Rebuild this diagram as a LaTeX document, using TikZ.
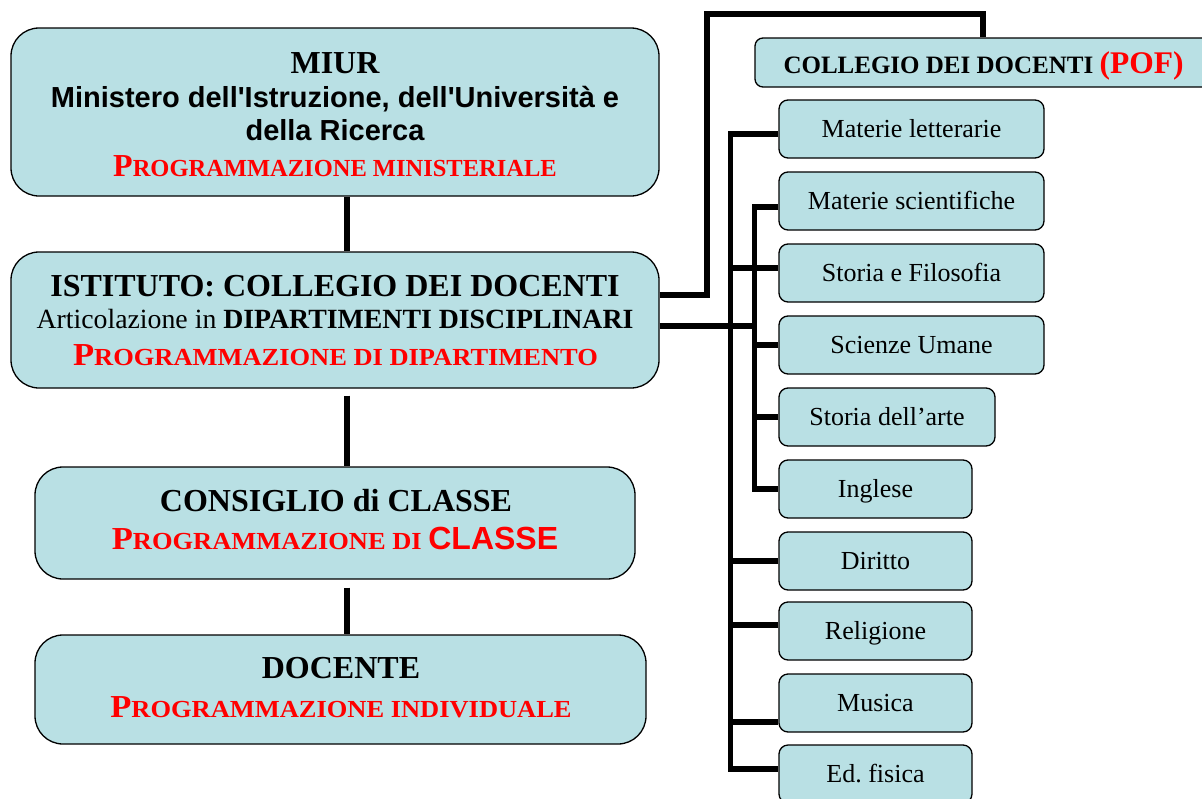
\documentclass[tikz,border=0pt]{standalone}
\usepackage{fontspec}
\setmainfont{Liberation Serif}
\newfontfamily\arialf{Liberation Sans}
\newfontfamily\serifwide{Liberation Serif}[FakeStretch=1.08]
\definecolor{boxfill}{RGB}{185,224,228}
\newcommand\szf[1]{\fontsize{#1}{#1}\selectfont}
\newcommand\sqt{\XeTeXglyph\XeTeXcharglyph"27\relax}
\newcommand\pcap[1]{{\szf{32}P}{\szf{24.5}#1}}
\newcommand\pcapw[1]{{\serifwide\bfseries{\szf{32}P}{\szf{24.5}#1}}}
\tikzset{
  bigbox/.style={draw=black, line width=1.3pt, fill=boxfill, rounded corners=28pt, inner sep=0pt},
  pofbox/.style={draw=black, line width=1.3pt, fill=boxfill, rounded corners=8pt, inner sep=0pt},
  smallbox/.style={draw=black, line width=1.3pt, fill=boxfill, rounded corners=9pt, inner sep=0pt,
    font=\szf{26}, text height=20pt, text depth=3pt, minimum height=58pt},
  conn/.style={line width=5.5pt, black, line join=miter},
  txt/.style={anchor=base, inner sep=0pt},
  redtxt/.style={txt, text=red, font=\bfseries},
}
\begin{document}
\begin{tikzpicture}[x=1pt,y=-1pt]
\clip (0,0) rectangle (1202,798);
\useasboundingbox (0,0) rectangle (1202,798);

\coordinate (r1) at (707,14);

% left column boxes
\node[bigbox, minimum width=648pt, minimum height=168pt] (miur) at (335,112) {};
\node[bigbox, minimum width=648pt, minimum height=136pt] (ist) at (335,320) {};
\node[bigbox, minimum width=600pt, minimum height=112pt] (cons) at (335,523) {};
\node[bigbox, minimum width=611pt, minimum height=109pt] (doc) at (340.5,689.5) {};

% right boxes
\node[pofbox, minimum width=456pt, minimum height=49pt] (pof) at (983,62.5) {};
\node[smallbox, minimum width=265pt] (mlet) at (911.5,129) {Materie letterarie};
\node[smallbox, minimum width=265pt] (msci) at (911.5,201) {Materie scientifiche};
\node[smallbox, minimum width=265pt] (stfil) at (911.5,273) {Storia e Filosofia};
\node[smallbox, minimum width=265pt] (scum) at (911.5,345) {Scienze Umane};
\node[smallbox, minimum width=216pt] (starte) at (887,417) {Storia dell'arte};
\node[smallbox, minimum width=193pt] (ingl) at (875.5,489) {Inglese};
\node[smallbox, minimum width=193pt] (dir) at (875.5,561) {Diritto};
\node[smallbox, minimum width=193pt] (rel) at (875.5,631) {Religione};
\node[smallbox, minimum width=193pt] (mus) at (875.5,703) {Musica};
\node[smallbox, minimum width=193pt] (edf) at (875.5,774) {Ed.\ fisica};

% texts of the big boxes
\node[txt, font=\bfseries\szf{32}] (t1) at (335,73) {MIUR};
\node[txt, font=\arialf\bfseries\szf{29}] (t2) at (335,107) {Ministero dell\sqt Istruzione, dell\sqt Università e};
\node[txt, font=\arialf\bfseries\szf{29}] (t3) at (335,140.7) {della Ricerca};
\node[redtxt] (t4) at (335,176) {\pcap{ROGRAMMAZIONE MINISTERIALE}};

\node[txt, font=\bfseries\szf{32}] (t5) at (335,296) {ISTITUTO: COLLEGIO DEI DOCENTI};
\node[txt, font=\szf{27.8}] (t6) at (335,328) {Articolazione in \textbf{DIPARTIMENTI DISCIPLINARI}};
\node[redtxt] (t7) at (335.5,365) {\pcapw{ROGRAMMAZIONE DI DIPARTIMENTO}};

\node[txt, font=\bfseries\szf{32}] (t8) at (336,511) {CONSIGLIO di CLASSE};
\node[redtxt] (t9) at (335,549) {\pcapw{ROGRAMMAZIONE DI }{\arialf\szf{32}CLASSE}};

\node[txt, font=\bfseries\szf{32}] (t10) at (341,678) {DOCENTE};
\node[redtxt] (t11) at (341,717) {\pcapw{ROGRAMMAZIONE INDIVIDUALE}};

\node[txt, font=\rmfamily\bfseries\szf{25}] (t12) at (983.5,73) {COLLEGIO DEI DOCENTI {\rmfamily\bfseries\color{red}\szf{31.5}(POF)}};

% vertical connectors of the left column
\draw[conn] ([xshift=12pt]miur.south) -- ([xshift=12pt]ist.north);
\draw[conn] ([xshift=12pt,yshift=-7pt]ist.south) -- ([xshift=12pt]cons.north);
\draw[conn] ([xshift=12pt,yshift=-8pt]cons.south) -- ([xshift=6.5pt]doc.north);

% route to the POF box
\draw[conn] ([yshift=25pt]ist.east) -| (r1) -| (pof.north);

% lower route into the right bus
\draw[conn] ([yshift=-6pt]ist.east) -- ++(96,0);

% left bus
\draw[conn] ([yshift=-5pt]mlet.west) -- ++(-48,0) |- ([yshift=5pt]edf.west);
\draw[conn] ([yshift=5pt]stfil.west) -- ++(-48,0);
\draw[conn] (dir.west) -- ++(-48,0);
\draw[conn] ([yshift=6pt]rel.west) -- ++(-48,0);
\draw[conn] ([yshift=-19pt]mus.west) -- ++(-48,0);

% right bus
\draw[conn] ([yshift=-6pt]msci.west) -- ++(-24,0) |- (ingl.west);
\draw[conn] (scum.west) -- ++(-24,0);
\draw[conn] (starte.west) -- ++(-24,0);
\end{tikzpicture}
\end{document}
